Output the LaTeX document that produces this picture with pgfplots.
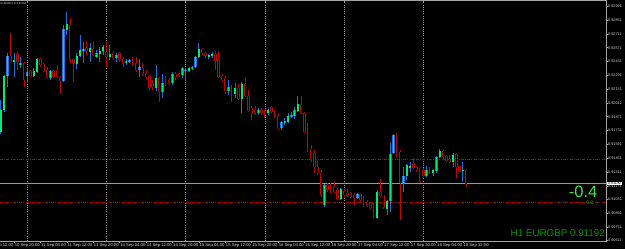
\documentclass[border=0pt]{standalone}
\usepackage{pgfplots}
\pgfplotsset{compat=1.18}
\usepackage{pgfplotstable}
\usepackage{fontspec}
\setmainfont{Liberation Sans}
\definecolor{bullbody}{RGB}{0,235,120}
\definecolor{bullwick}{RGB}{30,110,220}
\definecolor{bear}{RGB}{185,10,10}
\definecolor{sep}{RGB}{150,150,150}
\definecolor{frame}{RGB}{165,165,165}
\definecolor{ticktext}{RGB}{215,215,215}
\definecolor{bid}{RGB}{135,165,135}
\definecolor{level}{RGB}{165,10,10}
\definecolor{biggreen}{RGB}{70,225,70}
\definecolor{smallgreen}{RGB}{20,190,20}
\definecolor{sigreen}{RGB}{0,150,0}

% k open high low close  (bullish candles)
\pgfplotstableread{
k o h l c
-8 0.91717 0.92041 0.91696 0.91940
-7 0.91940 0.92294 0.91919 0.92284
-6 0.92284 0.92518 0.92173 0.92487
-4 0.92426 0.92518 0.92274 0.92447
-2 0.92396 0.92477 0.92365 0.92416
0 0.92284 0.92365 0.92213 0.92325
2 0.92284 0.92365 0.92274 0.92335
3 0.92325 0.92467 0.92315 0.92457
7 0.92264 0.92345 0.92244 0.92335
11 0.92234 0.92801 0.92224 0.92761
12 0.92751 0.92933 0.92700 0.92812
15 0.92406 0.92518 0.92355 0.92487
16 0.92487 0.92700 0.92477 0.92548
17 0.92538 0.92629 0.92416 0.92558
19 0.92528 0.92619 0.92426 0.92568
21 0.92477 0.92548 0.92467 0.92518
22 0.92507 0.92578 0.92426 0.92538
23 0.92538 0.92599 0.92497 0.92578
25 0.92477 0.92599 0.92447 0.92507
27 0.92467 0.92518 0.92426 0.92497
30 0.92416 0.92457 0.92396 0.92436
31 0.92426 0.92457 0.92416 0.92447
34 0.92345 0.92457 0.92274 0.92376
39 0.92163 0.92396 0.92132 0.92264
41 0.92122 0.92305 0.92061 0.92213
44 0.92213 0.92325 0.92193 0.92305
47 0.92294 0.92376 0.92264 0.92365
48 0.92335 0.92365 0.92234 0.92345
49 0.92335 0.92376 0.92325 0.92365
50 0.92355 0.92386 0.92345 0.92376
51 0.92376 0.92487 0.92365 0.92477
52 0.92477 0.92619 0.92467 0.92558
55 0.92477 0.92507 0.92457 0.92497
56 0.92487 0.92528 0.92467 0.92507
61 0.92132 0.92244 0.92092 0.92173
63 0.92102 0.92213 0.92061 0.92163
65 0.92051 0.92224 0.91909 0.92203
70 0.91909 0.91960 0.91889 0.91940
73 0.91909 0.91960 0.91889 0.91940
77 0.91757 0.91828 0.91737 0.91818
78 0.91808 0.91858 0.91787 0.91828
79 0.91818 0.91909 0.91808 0.91879
80 0.91869 0.91919 0.91858 0.91889
81 0.91879 0.91970 0.91848 0.91940
82 0.91929 0.92082 0.91919 0.92000
90 0.90976 0.91189 0.90956 0.91179
95 0.91037 0.91149 0.91027 0.91139
100 0.91047 0.91098 0.91037 0.91088
106 0.90844 0.91128 0.90834 0.91108
109 0.90936 0.91027 0.90875 0.91017
110 0.91017 0.91605 0.90905 0.91493
111 0.91504 0.91696 0.91493 0.91686
114 0.91199 0.91362 0.91108 0.91270
115 0.91270 0.91392 0.91230 0.91382
116 0.91351 0.91412 0.91311 0.91372
121 0.91270 0.91372 0.91260 0.91331
123 0.91301 0.91341 0.91270 0.91331
124 0.91321 0.91473 0.91301 0.91463
125 0.91463 0.91544 0.91453 0.91524
129 0.91412 0.91504 0.91362 0.91483
132 0.91321 0.91412 0.91210 0.91331
}\bull

% k open high low close  (bearish candles)
\pgfplotstableread{
k o h l c
-5 0.92487 0.92720 0.92416 0.92426
-3 0.92507 0.92528 0.92345 0.92426
-1 0.92416 0.92426 0.92173 0.92244
1 0.92335 0.92345 0.92274 0.92284
4 0.92457 0.92467 0.92376 0.92396
5 0.92406 0.92416 0.92325 0.92335
6 0.92345 0.92376 0.92254 0.92264
8 0.92335 0.92345 0.92264 0.92274
9 0.92345 0.92396 0.92264 0.92274
10 0.92274 0.92284 0.92102 0.92234
13 0.92801 0.92872 0.92416 0.92457
14 0.92457 0.92467 0.92224 0.92416
18 0.92568 0.92639 0.92497 0.92538
20 0.92558 0.92629 0.92487 0.92497
24 0.92528 0.92629 0.92376 0.92477
26 0.92518 0.92538 0.92447 0.92467
28 0.92518 0.92528 0.92426 0.92457
29 0.92457 0.92477 0.92376 0.92416
32 0.92436 0.92477 0.92386 0.92406
33 0.92416 0.92477 0.92325 0.92345
35 0.92365 0.92416 0.92284 0.92305
36 0.92315 0.92345 0.92254 0.92274
37 0.92284 0.92294 0.92142 0.92163
38 0.92213 0.92244 0.92142 0.92173
40 0.92264 0.92274 0.92021 0.92122
42 0.92264 0.92284 0.92183 0.92224
43 0.92244 0.92264 0.92193 0.92213
45 0.92305 0.92325 0.92244 0.92274
46 0.92305 0.92315 0.92274 0.92284
53 0.92558 0.92568 0.92497 0.92518
54 0.92518 0.92528 0.92467 0.92487
57 0.92507 0.92538 0.92345 0.92436
58 0.92447 0.92538 0.92264 0.92274
59 0.92284 0.92305 0.92224 0.92244
60 0.92264 0.92284 0.92102 0.92132
62 0.92173 0.92193 0.92021 0.92031
64 0.92163 0.92203 0.92041 0.92051
66 0.92203 0.92274 0.92071 0.92082
67 0.92082 0.92142 0.91919 0.91929
68 0.91960 0.91980 0.91838 0.91909
69 0.91940 0.91980 0.91889 0.91909
71 0.91940 0.91960 0.91889 0.91909
72 0.91919 0.91940 0.91858 0.91889
74 0.91970 0.91980 0.91909 0.91919
75 0.91919 0.91940 0.91858 0.91869
76 0.91879 0.91899 0.91747 0.91757
83 0.91990 0.92082 0.91899 0.91909
84 0.91909 0.91919 0.91706 0.91717
85 0.91727 0.91808 0.91514 0.91544
86 0.91544 0.91585 0.91412 0.91443
87 0.91504 0.91534 0.91301 0.91362
88 0.91362 0.91433 0.91281 0.91301
89 0.91301 0.91331 0.91057 0.91078
91 0.91179 0.91199 0.91108 0.91128
92 0.91179 0.91199 0.91098 0.91128
93 0.91159 0.91210 0.91098 0.91108
94 0.91128 0.91149 0.91027 0.91037
96 0.91118 0.91139 0.91057 0.91078
97 0.91098 0.91139 0.91057 0.91068
98 0.91098 0.91108 0.91047 0.91057
99 0.91078 0.91098 0.90976 0.91047
101 0.91088 0.91098 0.91007 0.91027
102 0.91047 0.91068 0.90956 0.90997
103 0.91007 0.91027 0.90956 0.90976
104 0.90997 0.91007 0.90936 0.90946
105 0.90976 0.90997 0.90844 0.90855
107 0.91108 0.91240 0.91057 0.91068
108 0.91078 0.91078 0.90936 0.90956
112 0.91686 0.91706 0.91463 0.91483
113 0.91514 0.91534 0.90824 0.91199
117 0.91402 0.91453 0.91331 0.91351
118 0.91362 0.91372 0.91311 0.91331
119 0.91351 0.91362 0.91199 0.91210
120 0.91331 0.91351 0.91260 0.91270
122 0.91341 0.91362 0.91291 0.91301
126 0.91524 0.91534 0.91443 0.91463
127 0.91473 0.91483 0.91412 0.91422
128 0.91443 0.91483 0.91402 0.91412
130 0.91493 0.91504 0.91250 0.91362
131 0.91372 0.91372 0.91311 0.91321
133 0.91331 0.91341 0.91159 0.91189
}\bear

\begin{document}
\begin{tikzpicture}[x=1pt,y=1pt]
\useasboundingbox (0,0) rectangle (625,249);
\fill[black] (0,0) rectangle (625,249);
\begin{axis}[
  at={(0pt,8pt)}, anchor=south west,
  width=606pt, height=240pt, scale only axis,
  xmin=-8.27, xmax=175.36, ymin=0.906113, ymax=0.930449,
  clip=false,
  axis line style={draw=none},
  xtick pos=bottom, ytick pos=right,
  tick align=outside, major tick length=2pt,
  tick style={frame, line width=0.6pt},
  xtick={-4,4,12,20,28,36,44,52,60,68,76,84,92,100,108,116,124,132},
  xticklabels={10 Sep 20:00,11 Sep 04:00,11 Sep 12:00,11 Sep 20:00,14 Sep 04:00,14 Sep 12:00,14 Sep 20:00,15 Sep 04:00,15 Sep 12:00,15 Sep 20:00,16 Sep 04:00,16 Sep 12:00,16 Sep 20:00,17 Sep 04:00,17 Sep 12:00,17 Sep 20:00,18 Sep 04:00,18 Sep 12:00},
  xticklabel style={font=\fontsize{4.2}{5}\selectfont, text=ticktext, anchor=north west, inner sep=0pt, xshift=0.5pt},
  ytick={0.92991,0.92851,0.92711,0.92571,0.92431,0.92291,0.92151,0.92011,0.91871,0.91731,0.91591,0.91451,0.91311,0.91171,0.91031,0.90891,0.90751,0.90615},
  yticklabels={0.92991,0.92851,0.92711,0.92571,0.92431,0.92291,0.92151,0.92011,0.91871,0.91731,0.91591,0.91451,0.91311,0.91171,0.91031,0.90891,0.90751,0.90611},
  yticklabel style={font=\fontsize{3.8}{4.5}\selectfont, text=ticktext, anchor=west, inner sep=0pt},
]
% day separators
\pgfplotsinvokeforeach{0,24,48,72,96,120}{
  \draw[sep, line width=0.6pt, dash pattern=on 1pt off 1.2pt] (#1,0.906113) -- (#1,0.930449);
}
% levels
\draw[level, line width=0.8pt, dash pattern=on 3pt off 1.2pt on 1pt off 1.2pt] (-8.27,0.91438) -- (175.36,0.91438);
\draw[level, line width=0.8pt, dash pattern=on 3pt off 1.2pt on 1pt off 1.2pt] (-8.27,0.91004) -- (175.36,0.91004);
\draw[bid, line width=0.7pt] (-8.27,0.91192) -- (175.36,0.91192);

% wicks
\addplot[draw=none, mark=none, forget plot,
  error bars/.cd, y dir=plus, y explicit, error mark=none,
  error bar style={draw=bullwick, line width=0.9pt}]
  table[x=k, y=l, y error plus expr=\thisrow{h}-\thisrow{l}] {\bull};
\addplot[draw=none, mark=none, forget plot,
  error bars/.cd, y dir=plus, y explicit, error mark=none,
  error bar style={draw=bear, line width=0.9pt}]
  table[x=k, y=l, y error plus expr=\thisrow{h}-\thisrow{l}] {\bear};
% bodies
\addplot[draw=none, mark=none, forget plot,
  error bars/.cd, y dir=plus, y explicit, error mark=none,
  error bar style={draw=bullwick, line width=2.4pt}]
  table[x=k, y=o, y error plus expr=\thisrow{c}-\thisrow{o}] {\bull};
\addplot[draw=none, mark=none, forget plot,
  error bars/.cd, y dir=plus, y explicit, error mark=none,
  error bar style={draw=bullbody, line width=1.5pt}]
  table[x=k, y=o, y error plus expr=\thisrow{c}-\thisrow{o}] {\bull};
\addplot[draw=none, mark=none, forget plot,
  error bars/.cd, y dir=plus, y explicit, error mark=none,
  error bar style={draw=bear, line width=2.4pt}]
  table[x=k, y=c, y error plus expr=\thisrow{o}-\thisrow{c}] {\bear};
\addplot[draw=none, mark=none, forget plot,
  error bars/.cd, y dir=plus, y explicit, error mark=none,
  error bar style={draw=black, line width=0.6pt}]
  table[x=k, y=c, y error plus expr=\thisrow{o}-\thisrow{c}] {\bear};

\node[font=\fontsize{4.2}{5}\selectfont, text=ticktext, anchor=north west, inner sep=0pt] at (-12,0.906113) [yshift=-2pt, xshift=0.5pt] {10 Sep 12:00};
\end{axis}
% frame
\draw[frame, line width=0.8pt] (0,248.5) -- (606,248.5) -- (606,8) -- (0,8);
% texts
\node[font=\fontsize{2.7}{3}\selectfont, text=ticktext, anchor=west, inner sep=0pt] at (0.5,245.3) {EURGBP,H1 0.91192};
\node[fill=white, text=black, font=\fontsize{3.8}{4.5}\selectfont, inner sep=0.6pt, anchor=west] at (607,65.5) {0.91192};
\node[text=biggreen, font=\fontsize{16.5}{18}\selectfont, anchor=base east, inner sep=0pt] at (597.5,51.8) {-0.4};
\node[text=smallgreen, font=\fontsize{5}{6}\selectfont, anchor=base east, inner sep=0pt] at (593.5,44.8) {0.0};
\node[text=sigreen, font=\fontsize{9.8}{11}\selectfont, anchor=base east, inner sep=0pt] at (605,12.4) {H1 EURGBP 0.91192};
\end{tikzpicture}
\end{document}
